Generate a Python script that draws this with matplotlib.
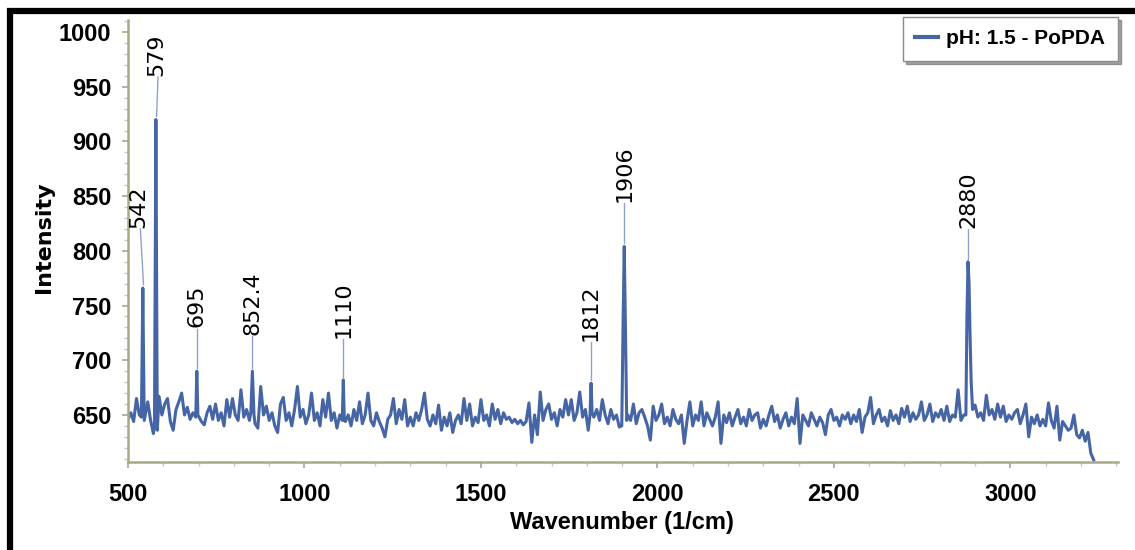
import matplotlib
matplotlib.use("Agg")
import matplotlib.pyplot as plt
from matplotlib.lines import Line2D
from matplotlib.ticker import MultipleLocator
import numpy as np

# ---------------- data ----------------
grid_start = 500      # cm^-1, first baseline sample
grid_step = 8         # cm^-1 between baseline samples
baseline = [
    646, 652, 644, 665, 650, 650, 648, 662, 645, 633, 640, 667, 650, 660, 665, 644, 636, 655, 662, 670, 650, 657, 646, 652, 645,
    650, 644, 641, 652, 658, 646, 660, 645, 652, 640, 664, 648, 665, 650, 645, 673, 648, 655, 645, 652, 642, 638, 676, 650, 658,
    645, 652, 640, 634, 660, 666, 645, 652, 640, 655, 676, 648, 655, 642, 650, 670, 645, 652, 640, 664, 648, 670, 645, 652, 638,
    650, 660, 644, 650, 640, 655, 645, 662, 642, 650, 670, 645, 640, 652, 644, 638, 630, 646, 650, 665, 642, 655, 646, 664, 640,
    648, 640, 652, 645, 655, 670, 646, 640, 650, 642, 659, 636, 648, 640, 652, 634, 645, 650, 642, 665, 645, 660, 640, 648, 643,
    664, 645, 650, 640, 660, 646, 655, 642, 652, 646, 648, 643, 646, 642, 645, 641, 644, 661, 625, 650, 632, 671, 645, 655, 660,
    646, 652, 640, 655, 648, 664, 650, 664, 645, 652, 671, 648, 655, 636, 660, 648, 655, 645, 664, 650, 642, 655, 646, 650, 639,
    640, 760, 650, 645, 660, 642, 652, 655, 648, 640, 627, 658, 645, 650, 660, 642, 648, 640, 655, 646, 642, 650, 624, 645, 662,
    640, 650, 645, 662, 640, 652, 646, 640, 648, 662, 624, 650, 643, 652, 640, 648, 655, 642, 648, 640, 655, 645, 650, 652, 638,
    646, 640, 650, 658, 644, 650, 638, 646, 652, 640, 648, 642, 665, 624, 650, 645, 640, 652, 646, 640, 648, 643, 632, 650, 655,
    645, 648, 640, 650, 646, 652, 642, 650, 644, 655, 634, 648, 652, 666, 642, 650, 655, 644, 648, 640, 654, 645, 650, 642, 656,
    648, 658, 644, 652, 646, 650, 662, 645, 650, 660, 644, 652, 648, 655, 645, 658, 644, 650, 648, 673, 645, 650, 700, 750, 660,
    659, 648, 652, 645, 668, 650, 655, 646, 660, 648, 658, 644, 650, 646, 652, 655, 642, 650, 660, 630, 648, 642, 650, 640, 646,
    640, 661, 645, 638, 658, 627, 644, 640, 636, 638, 650, 632, 629, 636, 626, 634, 615, 609,
]

# points describing the Raman bands (wavenumber, intensity)
band_x = [538, 542, 546,
          575, 579, 583,
          692, 695, 698,
          848, 852.4, 857,
          1107, 1110, 1113,
          1809, 1812, 1815,
          1899, 1903, 1906, 1909, 1913,
          2874, 2877, 2880, 2883, 2886, 2889, 2893]
band_y = [648, 766, 645,
          640, 920, 636,
          648, 690, 650,
          652, 690, 650,
          645, 682, 645,
          650, 679, 652,
          640, 740, 804, 740, 645,
          650, 740, 790, 770, 720, 680, 655]

peak_labels = ["542", "579", "695", "852.4", "1110", "1812", "1906", "2880"]
peak_pos = [542, 579, 695, 852.4, 1110, 1812, 1906, 2880]
peak_height = [766, 920, 690, 690, 682, 679, 804, 790]

series_name = "pH: 1.5 - PoPDA"
x_ticks = [500, 1000, 1500, 2000, 2500, 3000]
y_ticks = [650, 700, 750, 800, 850, 900, 950, 1000]

# ---------------- assemble series ----------------
gx = grid_start + grid_step * np.arange(len(baseline))
gy = np.array(baseline, dtype=float)
bx = np.array(band_x, dtype=float)
by = np.array(band_y, dtype=float)
keep = np.array([np.min(np.abs(bx - g)) >= 3 for g in gx])
x_all = np.concatenate([gx[keep], bx])
y_all = np.concatenate([gy[keep], by])
order = np.argsort(x_all)
x_all, y_all = x_all[order], y_all[order]

# ---------------- styling ----------------
W, H = 1135, 550
fig = plt.figure(figsize=(W / 100, H / 100), dpi=100)
fig.patch.set_facecolor("white")

ax = fig.add_axes([128 / W, 1 - 462 / H, (1118 - 128) / W, (462 - 20) / H])
LINE = "#4565a5"
AXC = "#a9a987"
BOLDF = ["Liberation Sans", "DejaVu Sans"]

ax.plot(x_all, y_all, color=LINE, lw=2.2, label=series_name, solid_joinstyle="round")

ax.set_xlim(500, 3305)
ax.set_ylim(607, 1011)
for s in ["top", "right"]:
    ax.spines[s].set_visible(False)
for s in ["left", "bottom"]:
    ax.spines[s].set_color(AXC)
    ax.spines[s].set_linewidth(1.8)

ax.set_xticks(x_ticks)
ax.set_yticks(y_ticks)
ax.xaxis.set_minor_locator(MultipleLocator(100))
ax.yaxis.set_minor_locator(MultipleLocator(10))
ax.tick_params(axis="both", which="major", color=AXC, length=4, width=1.2)
ax.tick_params(axis="both", which="minor", color="#c9c9b5", length=3, width=1.0)
ax.tick_params(axis="x", which="major", pad=11)
ax.tick_params(axis="y", which="major", pad=8)
for lab in ax.get_xticklabels() + ax.get_yticklabels():
    lab.set_family(BOLDF)
    lab.set_fontweight("bold")
    lab.set_fontsize(17)
    lab.set_color("black")

ax.set_xlabel("Wavenumber (1/cm)", family=BOLDF, fontweight="bold", fontsize=17)
ax.xaxis.set_label_coords((622 - 128) / 990, -(511 - 462) / 442)
ax.set_ylabel("Intensity", family="DejaVu Sans", fontweight="bold", fontsize=16)
ax.yaxis.set_label_coords((54 - 128) / 990, (462 - 237) / 442)

# peak annotations
label_offset = [55, 40, 40, 33, 38, 39, 41, 31]
label_dx = [-12, 1, 0, 0, 0, 0, 0, 0]
for lab, px, ph, off, dx in zip(peak_labels, peak_pos, peak_height, label_offset, label_dx):
    ty = ph + off
    tx = px + dx
    ax.plot([px + 2 if dx else px, tx + (5 if dx else 0)], [ph + 3, ty - 1],
            color="#8ea2cc", lw=1.0, zorder=1)
    ax.text(tx, ty, lab, rotation=90, ha="center", va="bottom",
            family="DejaVu Sans", fontsize=16, color="black")

# legend
leg = fig.legend(loc="upper right", bbox_to_anchor=(1118 / W, 1 - 17 / H),
                 borderaxespad=0, frameon=True, fancybox=False, shadow=True,
                 handlelength=1.1, handletextpad=0.4, borderpad=0.6,
                 prop={"family": BOLDF, "weight": "bold", "size": 15})
leg.get_frame().set_edgecolor("#8a8a8a")
leg.get_frame().set_linewidth(1.0)
for h in leg.get_lines():
    h.set_linewidth(3)

# black frame around the picture
fig.add_artist(Line2D([7 / W, 1.0], [1 - 11 / H, 1 - 11 / H], transform=fig.transFigure,
                      color="black", lw=4.5, solid_capstyle="butt"))
fig.add_artist(Line2D([10 / W, 10 / W], [0, 1 - 8 / H], transform=fig.transFigure,
                      color="black", lw=4.5, solid_capstyle="butt"))

fig.savefig("out.png", dpi=100)
